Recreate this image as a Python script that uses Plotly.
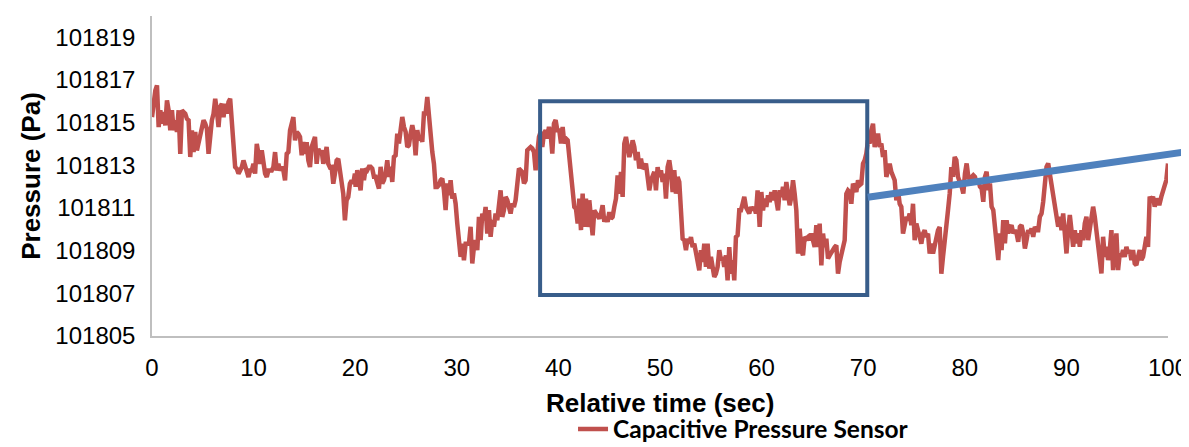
import numpy as np
import plotly.graph_objects as go

# ---------------- data ----------------
# Pressure samples (Pa) of the capacitive pressure sensor, in five time segments
seg1 = [101815.26, 101816.20, 101816.51, 101816.75, 101814.79, 101815.58, 101814.95, 101815.50, 101814.87, 101816.04,
        101815.58, 101814.64, 101815.58, 101814.64, 101815.11, 101814.56, 101815.58, 101813.54, 101815.58, 101815.50,
        101815.42, 101815.18, 101815.11, 101813.39, 101814.64, 101813.62, 101814.56, 101813.70, 101814.01, 101814.48,
        101814.72, 101815.11, 101814.95, 101814.72, 101813.54, 101814.64, 101815.11, 101815.42, 101816.12, 101815.58,
        101814.79, 101815.73, 101815.89, 101815.26, 101815.89, 101815.42, 101815.97, 101816.12, 101815.11, 101813.86,
        101812.92, 101812.84, 101812.61, 101812.76, 101812.92, 101813.23, 101812.92, 101812.76, 101812.45, 101812.76,
        101812.76, 101813.07, 101812.61, 101814.01, 101813.54, 101813.07, 101813.70, 101813.07, 101812.61, 101812.45,
        101812.76, 101812.76, 101812.76, 101812.92, 101813.62, 101812.76, 101813.07, 101812.76, 101812.92, 101812.76,
        101812.29, 101813.54, 101813.62, 101814.64, 101815.11, 101815.26, 101814.17, 101814.56, 101814.48, 101814.33,
        101813.47, 101814.09, 101813.54, 101814.09, 101813.23, 101812.92, 101813.86, 101814.17, 101814.33, 101813.07,
        101813.78, 101813.54, 101813.70, 101813.07, 101813.54, 101813.86, 101813.07, 101812.90, 101812.92, 101812.14,
        101812.61, 101813.23, 101813.31, 101812.76, 101812.29, 101811.67, 101810.42, 101811.36, 101811.51, 101812.14,
        101812.29, 101812.14, 101812.61]
seg2 = [101811.99, 101812.77, 101812.30, 101811.83, 101812.85, 101812.30, 101812.85, 101812.77, 101812.93, 101812.93,
        101812.85, 101812.46, 101812.46, 101812.22, 101811.91, 101812.93, 101812.15, 101812.30, 101812.62, 101813.24,
        101812.46, 101812.93, 101812.22, 101813.40, 101813.47, 101814.49, 101814.02, 101814.65, 101815.27, 101814.80,
        101814.57, 101813.86, 101813.94, 101814.49, 101814.88, 101814.49, 101813.47, 101814.65, 101814.18, 101814.33,
        101814.10, 101815.43, 101815.43, 101816.21, 101815.12, 101814.18, 101813.63, 101813.08, 101811.99, 101811.99,
        101812.07, 101812.30, 101812.38, 101811.83, 101810.90, 101812.15, 101811.60, 101812.30, 101811.44, 101811.68,
        101811.21, 101810.27, 101809.49, 101808.71, 101809.33, 101808.55, 101809.33, 101809.33, 101809.33, 101810.12,
        101808.40, 101809.18, 101809.49, 101809.02, 101810.58, 101809.49, 101810.74, 101810.43, 101811.05, 101809.80,
        101810.90, 101809.65, 101810.43, 101810.12, 101810.74, 101810.43, 101811.37, 101811.83, 101810.58, 101810.90,
        101811.52, 101811.37, 101811.05, 101810.74, 101811.21, 101811.05, 101811.37, 101812.46, 101812.85, 101812.77,
        101812.69, 101812.15, 101812.30, 101813.71, 101813.79, 101813.86, 101813.79, 101813.63, 101812.77, 101813.71,
        101814.33, 101814.57, 101813.86, 101814.49, 101814.65, 101814.26, 101814.80, 101814.49, 101813.55, 101814.96,
        101815.12, 101814.65]
seg3 = [101814.64, 101814.02, 101814.80, 101814.02, 101814.25, 101814.17, 101813.24, 101812.46, 101811.83, 101811.05,
        101810.97, 101810.27, 101811.44, 101809.96, 101811.67, 101810.11, 101811.44, 101810.11, 101811.36, 101810.58,
        101809.72, 101810.89, 101810.74, 101810.58, 101810.50, 101810.74, 101811.13, 101810.35, 101810.58, 101810.35,
        101810.81, 101810.50, 101810.58, 101811.05, 101811.44, 101812.53, 101811.67, 101812.69, 101811.52, 101814.02,
        101814.33, 101813.86, 101813.39, 101813.71, 101814.17, 101813.86, 101813.24, 101813.63, 101812.85, 101813.32,
        101812.85, 101812.92, 101813.08, 101812.46, 101811.83, 101812.30, 101812.46, 101812.69, 101811.83, 101812.92,
        101812.46, 101812.77, 101812.22, 101812.61, 101811.44, 101812.92, 101813.24, 101812.69, 101811.75, 101812.77,
        101811.67, 101812.46, 101812.22, 101811.05, 101809.56, 101809.49, 101809.02, 101809.56, 101809.33, 101809.64,
        101809.17, 101809.33, 101808.86, 101808.71, 101808.08, 101809.02, 101808.47, 101809.33, 101808.24, 101809.33,
        101808.16, 101808.71, 101808.24, 101807.77, 101807.92, 101808.24, 101809.02, 101808.55, 101808.71, 101808.24,
        101808.78, 101807.61, 101809.17, 101807.92, 101808.55, 101807.61, 101809.64, 101809.72, 101810.89, 101810.89,
        101811.20, 101811.52, 101811.05, 101810.89, 101810.74, 101811.05, 101810.89, 101811.05, 101810.74, 101811.83,
        101810.11]
seg4 = [101810.11, 101811.75, 101810.89, 101811.44, 101811.05, 101811.60, 101811.28, 101811.75, 101811.36, 101811.83,
        101811.28, 101810.89, 101811.83, 101811.52, 101811.99, 101811.36, 101812.22, 101811.75, 101811.13, 101811.52,
        101812.30, 101811.67, 101810.89, 101808.86, 101810.03, 101809.02, 101808.78, 101809.64, 101809.56, 101809.64,
        101809.49, 101809.80, 101809.41, 101809.17, 101810.19, 101809.17, 101810.27, 101808.31, 101809.80, 101809.17,
        101809.56, 101808.63, 101808.78, 101808.94, 101809.02, 101809.17, 101809.25, 101807.92, 101808.47, 101808.86,
        101809.17, 101809.49, 101811.67, 101811.83, 101811.75, 101811.20, 101812.14, 101811.99, 101811.75, 101812.30,
        101812.07, 101812.14, 101813.08, 101813.24, 101813.55, 101814.17, 101814.02, 101814.64, 101814.95, 101813.86,
        101814.33, 101814.49, 101813.86, 101814.02, 101813.39, 101813.71, 101812.46, 101812.92, 101813.08, 101812.69,
        101812.46, 101812.30, 101811.36, 101811.83, 101811.20, 101811.05, 101809.80, 101810.11, 101810.58, 101810.42,
        101810.74, 101810.19, 101811.20, 101809.49, 101810.27, 101809.96, 101809.64, 101809.33, 101809.80, 101809.96,
        101809.64, 101809.80, 101808.86, 101809.33, 101808.86, 101809.33, 101809.64, 101809.96, 101810.11, 101807.92,
        101808.71, 101809.64, 101810.58, 101810.89, 101811.67, 101812.92, 101812.46, 101813.39, 101813.24, 101812.46,
        101812.22, 101812.22]
seg5 = [101812.00, 101811.68, 101812.62, 101813.09, 101812.46, 101812.31, 101812.46, 101812.54, 101812.46, 101812.15,
        101812.31, 101812.00, 101811.92, 101811.29, 101812.46, 101812.70, 101811.84, 101812.15, 101811.06, 101810.90,
        101810.12, 101809.18, 101808.56, 101809.81, 101809.03, 101810.43, 101809.34, 101810.43, 101809.81, 101810.04,
        101810.20, 101809.81, 101809.96, 101809.81, 101809.42, 101810.12, 101810.20, 101809.81, 101809.10, 101809.49,
        101809.96, 101809.81, 101810.04, 101809.65, 101810.12, 101809.96, 101809.96, 101810.59, 101810.74, 101811.29,
        101812.15, 101812.93, 101813.09, 101812.62, 101812.00, 101811.53, 101811.37, 101810.90, 101810.12, 101810.59,
        101809.96, 101810.74, 101809.34, 101808.87, 101809.96, 101810.67, 101809.96, 101809.18, 101809.96, 101809.34,
        101809.81, 101809.18, 101809.96, 101809.49, 101810.28, 101810.59, 101809.49, 101809.96, 101810.43, 101811.06,
        101810.59, 101809.81, 101809.34, 101808.40, 101807.93, 101809.65, 101808.71, 101809.18, 101808.56, 101809.03,
        101809.96, 101808.09, 101809.03, 101809.81, 101808.09, 101808.87, 101808.71, 101809.03, 101808.71, 101809.18,
        101808.87, 101809.03, 101808.56, 101809.03, 101808.40, 101808.32, 101808.71, 101809.03, 101808.56, 101808.71,
        101809.18, 101809.65, 101809.18, 101811.53, 101811.37, 101811.53, 101811.06, 101811.45, 101811.21, 101811.21,
        101811.53, 101811.76, 101812.00, 101812.31, 101813.09]

# time span (s) covered by each segment (samples are evenly spaced inside a segment)
segment_spans = [(0.0, 19.97), (20.04, 39.89), (40.09, 59.77), (59.81, 79.66), (79.69, 100.0)]
segments = [seg1, seg2, seg3, seg4, seg5]

time_s = np.concatenate([np.linspace(a, b, len(s)) for (a, b), s in zip(segment_spans, segments)])
pressure_pa = np.concatenate(segments)

series_name = "Capacitive Pressure Sensor"
x_title = "Relative time (sec)"
y_title = "Pressure (Pa)"
x_ticks = list(range(0, 101, 10))
y_ticks = list(range(101805, 101820, 2))
x_range = [0, 100]
y_range = [101805, 101820]

# highlight rectangle and trend line, in data units
box_x = [38.2, 70.4]
box_y = [101806.92, 101816.0]
trend_x = [70.45, 102.1]
trend_y = [101811.5, 101813.66]

# ---------------- figure ----------------
# the page body has an 8px margin, so the figure is 8px smaller than the window
W, H = 1181, 439
M = dict(l=144, r=21, t=8, b=111)

RED = "#C0504D"
AXIS_GRAY = "#BFBFBF"
FONT = "Liberation Sans, Arial, sans-serif"

fig = go.Figure()
fig.add_trace(go.Scatter(
    x=time_s, y=pressure_pa, mode="lines", name=series_name,
    line=dict(color=RED, width=4.5), showlegend=True,
))

def to_paper_x(v):
    return (v - x_range[0]) / (x_range[1] - x_range[0])

def to_paper_y(v):
    return (v - y_range[0]) / (y_range[1] - y_range[0])

fig.add_shape(type="rect", xref="x", yref="y",
              x0=box_x[0], x1=box_x[1], y0=box_y[0], y1=box_y[1],
              line=dict(color="#385D8A", width=4), fillcolor="rgba(0,0,0,0)", layer="above")
fig.add_shape(type="line", xref="paper", yref="paper",
              x0=to_paper_x(trend_x[0]), x1=to_paper_x(trend_x[1]),
              y0=to_paper_y(trend_y[0]), y1=to_paper_y(trend_y[1]),
              line=dict(color="#4F81BD", width=7), layer="above")

# x-axis title placed as a centred caption under the tick labels
fig.add_annotation(text=x_title, xref="paper", yref="paper", x=0.5, y=-0.209,
                   xanchor="center", yanchor="middle", showarrow=False,
                   font=dict(family=FONT, size=26, color="black", weight="bold"))

fig.update_layout(
    template="none",
    width=W, height=H, margin=M,
    paper_bgcolor="white", plot_bgcolor="white",
    font=dict(family=FONT, color="black"),
    showlegend=True,
    legend=dict(orientation="h", x=0.4144, y=0.041, yref="container",
                xanchor="left", yanchor="middle",
                font=dict(family="Lato, Open Sans, sans-serif", size=24.5, color="black", weight="bold"),
                bgcolor="rgba(0,0,0,0)", itemwidth=30),
)
fig.update_xaxes(
    automargin=False,
    range=x_range, tickmode="array", tickvals=x_ticks, ticktext=[str(v) for v in x_ticks],
    showline=True, linecolor=AXIS_GRAY, linewidth=1.5, showgrid=False, zeroline=False,
    ticks="", ticklabelstandoff=9, tickfont=dict(family=FONT, size=24, color="black"),
)
fig.update_yaxes(
    automargin=False,
    range=y_range, tickmode="array", tickvals=y_ticks, ticktext=[str(v) for v in y_ticks],
    showline=True, linecolor=AXIS_GRAY, linewidth=1.5, showgrid=False, zeroline=False,
    ticks="", ticklabelstandoff=10, tickfont=dict(family=FONT, size=24, color="black"),
    title=dict(text=y_title, standoff=7,
               font=dict(family=FONT, size=26, color="black", weight="bold")),
)

fig.write_html("out.html")
